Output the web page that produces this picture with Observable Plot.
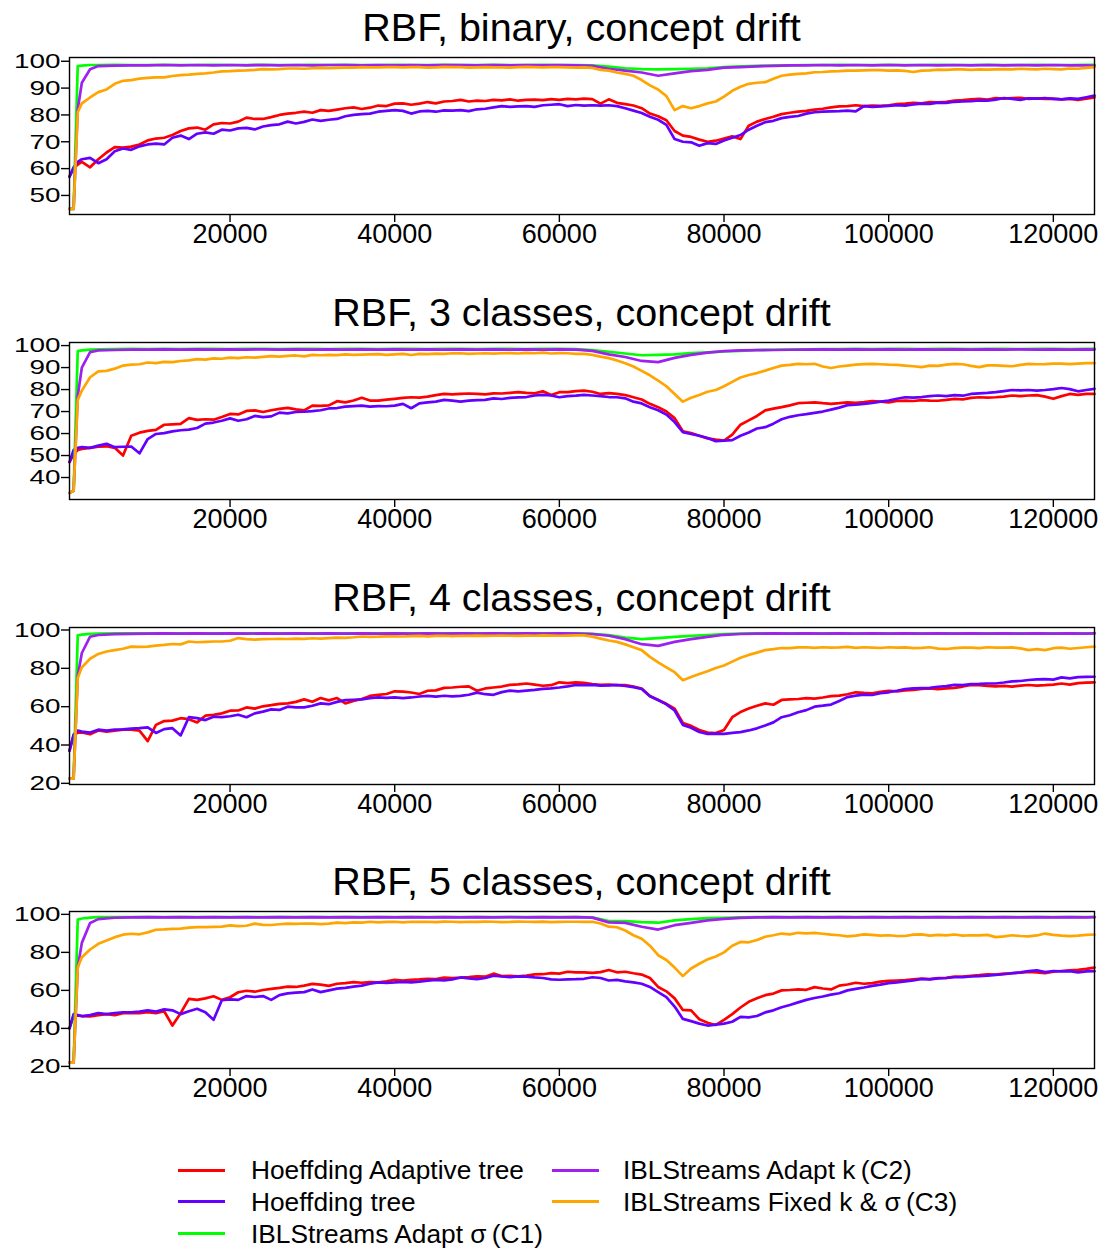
<!DOCTYPE html>
<html><head><meta charset="utf-8">
<script src="https://cdn.jsdelivr.net/npm/d3@7"></script>
<script src="https://cdn.jsdelivr.net/npm/@observablehq/plot@0.6"></script>
<style>
body{margin:0;background:#fff;width:1110px;height:1250px;position:relative;overflow:hidden;font-family:"Liberation Sans",Arial,sans-serif;color:#000;}
.title{position:absolute;left:0;width:1163px;text-align:center;font-size:39.5px;line-height:40px;white-space:nowrap;}
.panel{position:absolute;left:0;}
.lg-line{position:absolute;height:3px;width:47px;}
.lg-text{position:absolute;font-size:26.3px;line-height:26px;white-space:nowrap;}
</style></head>
<body>
<script>
// ---- x grids (instances processed) ----
const xFine = [500, 1000, 1500, 2000, ...d3.range(3000, 125001, 1000)];
const xCoarse = [500, 1000, 1500, 2000, 3000, ...d3.range(4000, 124001, 2000), 125000];
const xTicks = [20000, 40000, 60000, 80000, 100000, 120000];

const seriesNames = ["Hoeffding Adaptive tree", "Hoeffding tree", "IBLStreams Adapt σ\u2009(C1)", "IBLStreams Adapt k\u2009(C2)", "IBLStreams Fixed k & σ\u2009(C3)"];
const seriesColors = ["#ff0000", "#6300ff", "#00ff00", "#a020f0", "#ffa500"];

const panelTitles = ["RBF, binary, concept drift", "RBF, 3 classes, concept drift", "RBF, 4 classes, concept drift", "RBF, 5 classes, concept drift"];
const yDomains = [[42.9, 101.4], [30, 101.4], [19.4, 101.3], [18.9, 101.5]];
const yTickSets = [[50, 60, 70, 80, 90, 100], [40, 50, 60, 70, 80, 90, 100], [20, 40, 60, 80, 100], [20, 40, 60, 80, 100]];

// ---- Panel 1: binary ----
const binHAT = [57, 60, 61.5, 62.5,
60.5, 63.5, 66, 68, 67.8, 68.2, 69, 70.5, 71.2, 71.5,
72.5, 74, 75, 75.3, 74.5, 76.5, 77, 76.8, 77.5, 79,
78.5, 78.5, 79.2, 80, 80.5, 80.8, 81.2, 80.8, 81.8, 81.5,
82, 82.5, 82.8, 82.2, 82.7, 83.5, 83.3, 84.2, 84.3, 83.8,
84.2, 84.8, 84.3, 85, 85.2, 85.6, 85, 85.3, 85.2, 85.6,
85.4, 85.8, 85.3, 85.6, 85.7, 85.5, 85.9, 85.6, 86, 85.8,
86.1, 85.9, 84.2, 85.8, 84.5, 84, 83.5, 82.5, 80.5, 79.5,
78, 74, 72.3, 71.8, 70.8, 70, 70.4, 71.2, 72, 71,
76, 77.5, 78.5, 79.3, 80.3, 80.8, 81.2, 81.5, 82, 82.3,
82.8, 83.2, 83.3, 83.6, 83.3, 83.5, 83.4, 83.6, 84, 84.2,
84.5, 84.3, 84.8, 84.7, 84.9, 85.3, 85.5, 85.8, 86, 85.7,
86.3, 86.1, 86.3, 86.4, 86, 86.2, 86, 86.1, 85.8, 86,
85.6, 86.1, 86.5];
const binHT = [57, 60.5, 62.5, 63.5,
64, 62, 63.5, 66.5, 67.5, 67, 68.3, 69, 69.3, 69,
71.5, 72.3, 71, 73, 73.5, 73, 74.5, 74.2, 75, 75.2,
74.6, 75.7, 76.2, 76.5, 77.5, 76.8, 77.4, 78.3, 77.8, 78.2,
78.5, 79.5, 80, 80.3, 80.5, 81.2, 81.5, 81.8, 81.5, 80.5,
81.3, 81.5, 81.2, 81.7, 81.6, 81.8, 81.4, 82.1, 82.3, 82.8,
83.3, 83, 83.2, 83.3, 83, 83.6, 83.8, 84, 83.3, 83.7,
83.5, 83.6, 83.5, 83.6, 83.3, 82.5, 81.6, 80.7, 79.3, 78.2,
76.3, 71, 70, 69.8, 68.5, 69.5, 69.2, 70.5, 71.5, 72.5,
74.5, 76, 77.3, 77.8, 78.8, 79.3, 79.6, 80.5, 81, 81.2,
81.3, 81.4, 81.6, 81.3, 83.3, 83, 83.2, 83.4, 83.6, 83.5,
83.9, 84.2, 84.1, 84.6, 84.5, 84.9, 85, 85.1, 85.4, 85.3,
85.7, 86.3, 86, 85.6, 86.2, 86.1, 86.3, 86, 85.8, 86.2,
86, 86.6, 87.2];
const binC1 = [45, 45, 98.2, 98.4, 98.6,
98.6, 98.7, 98.6, 98.6, 98.7, 98.6, 98.6, 98.7, 98.6, 98.6,
98.7, 98.6, 98.6, 98.7, 98.6, 98.7, 98.6, 98.6, 98.7, 98.6,
98.6, 98.7, 98.6, 98.6, 98.7, 98.6, 98.6, 98.7, 98.6, 98.6,
98.5, 98, 97.4, 97.1, 97, 97.1, 97.2, 97.4, 97.8, 98.1,
98.3, 98.4, 98.5, 98.6, 98.6, 98.7, 98.6, 98.6, 98.7, 98.6,
98.6, 98.7, 98.6, 98.6, 98.7, 98.6, 98.6, 98.7, 98.6, 98.6,
98.7, 98.7];
const binC2 = [45, 45, 82, 92, 97,
98.2, 98.4, 98.5, 98.5, 98.6, 98.5, 98.6, 98.5, 98.6, 98.5,
98.6, 98.5, 98.6, 98.5, 98.6, 98.6, 98.5, 98.6, 98.5, 98.6,
98.5, 98.6, 98.6, 98.5, 98.6, 98.5, 98.6, 98.5, 98.6, 98.5,
98.3, 97.2, 96.5, 95.8, 94.6, 95.5, 96.3, 96.8, 97.6, 97.8,
98.1, 98.3, 98.5, 98.5, 98.6, 98.5, 98.6, 98.5, 98.6, 98.5,
98.6, 98.5, 98.6, 98.5, 98.6, 98.5, 98.6, 98.5, 98.6, 98.5,
98.5, 98.3];
const binC3 = [45, 45, 81, 84.3,
86.5, 88.5, 89.5, 91.6, 92.7, 93, 93.5, 93.8, 94, 94,
94.5, 94.8, 95, 95.3, 95.5, 95.8, 96.2, 96.3, 96.5, 96.6,
96.8, 97.1, 97, 97.1, 97.3, 97.3, 97.2, 97.4, 97.5, 97.4,
97.5, 97.6, 97.6, 97.8, 97.7, 97.7, 97.8, 97.8, 97.7, 97.8,
97.8, 97.6, 97.7, 97.9, 97.8, 97.8, 97.6, 97.7, 97.8, 97.7,
97.7, 97.6, 97.8, 97.9, 97.8, 97.7, 97.8, 97.8, 97.7, 97.6,
97.7, 97.5, 96.8, 96.5, 95.8, 95.3, 94.6, 93, 91, 89.5,
87, 81.8, 83.3, 82.5, 83.3, 84.3, 85, 86.8, 89, 90.5,
91.6, 92, 92.2, 93.5, 94.6, 95, 95.3, 95.5, 95.9, 96,
96.2, 96.3, 96.5, 96.5, 96.6, 96.7, 96.7, 96.5, 96.6, 96.4,
96, 96.5, 96.6, 96.9, 96.8, 97, 97, 96.8, 97, 96.9,
97, 97.1, 97, 97.2, 97.1, 97, 97.2, 97.1, 97, 97.3,
97.2, 97.5, 97.8];

// ---- Panel 2: 3 classes ----
const c3HAT = [47, 50.5, 52.5, 53,
53.5, 54, 54.2, 53.5, 50, 59, 60.4, 61.2, 61.7, 64,
64.2, 64.4, 67, 66.2, 66.5, 66.3, 67.5, 68.9, 68.7, 70.3,
70.5, 69.8, 70.6, 71.2, 71.7, 71, 70.5, 72.7, 72.6, 72.8,
74.7, 74.2, 75, 76.3, 75, 75, 75.4, 75.8, 76.2, 76.5,
76.3, 76.8, 77.5, 78, 77.8, 78, 78.2, 78, 77.8, 78.3,
78.2, 78.5, 78.8, 78.5, 78.3, 79.2, 77.5, 78.8, 78.8, 79.3,
79.5, 79, 78, 78.4, 78, 77.5, 76.5, 75.5, 73.5, 72,
70, 67, 61, 60.2, 59, 57.8, 57.2, 56.8, 59.5, 64,
66, 68, 70.5, 71.3, 72, 72.8, 73.8, 74, 74.2, 73.8,
73.5, 73.8, 74.2, 74, 74.3, 74.7, 74.5, 74.2, 74.8, 75,
74.8, 75.2, 75, 74.9, 75.3, 75.8, 75.5, 76.2, 76.5, 76.3,
76.5, 76.8, 77.3, 77, 77.3, 77.5, 76.8, 75.8, 77, 78,
77.6, 78, 78];
const c3HT = [47, 52.5, 53.5, 53.8,
53.5, 54.5, 55.3, 53.8, 54, 54.1, 51, 57.5, 59.8, 60.2,
61, 61.5, 61.8, 62.5, 64.5, 65, 65.8, 66.9, 65.8, 66.5,
68, 67.5, 67.8, 69.5, 69.2, 69.8, 69.9, 70.2, 70.6, 71.4,
71.6, 72.2, 72.5, 72.7, 72.2, 72.5, 72.4, 72.7, 73.5, 71.5,
73.7, 74.2, 74.5, 75.3, 75, 74.5, 75, 75.2, 75.3, 76,
75.7, 76.2, 76.4, 76.6, 77.3, 77.6, 77.3, 76.5, 77, 77.2,
77.6, 77.3, 77, 76.6, 76.5, 76, 74.5, 73.7, 72, 70.6,
68.6, 65.2, 60.6, 59.8, 59, 58, 56.5, 56.8, 57, 59,
60.5, 62.3, 62.9, 64.5, 66.5, 67.6, 68.3, 68.8, 69.4, 70,
70.9, 71.8, 72.9, 73.1, 73.5, 73.9, 74.5, 75, 75.8, 76.5,
76.3, 76.6, 77, 77.3, 77, 77.5, 77.2, 78, 78.3, 78.5,
78.8, 79.3, 79.8, 79.6, 79.8, 79.5, 79.8, 80.2, 80.7, 80.2,
79.2, 79.8, 80.3];
const c3C1 = [33, 34, 97.5, 97.8, 98.2,
98.3, 98.4, 98.5, 98.4, 98.5, 98.4, 98.5, 98.5, 98.4, 98.5,
98.5, 98.4, 98.5, 98.5, 98.4, 98.5, 98.5, 98.4, 98.5, 98.5,
98.4, 98.5, 98.5, 98.4, 98.5, 98.5, 98.4, 98.5, 98.5, 98.4,
98, 97.2, 96.4, 95.6, 95.8, 96, 96.6, 96.9, 97.3, 97.6,
98, 98.1, 98.2, 98.3, 98.4, 98.4, 98.5, 98.4, 98.5, 98.5,
98.4, 98.5, 98.5, 98.4, 98.5, 98.5, 98.4, 98.5, 98.5, 98.4,
98.5, 98.5];
const c3C2 = [33, 34, 77, 90, 97,
97.8, 98, 98.2, 98.2, 98.3, 98.2, 98.3, 98.2, 98.3, 98.2,
98.3, 98.2, 98.3, 98.2, 98.3, 98.2, 98.3, 98.2, 98.3, 98.2,
98.3, 98.2, 98.3, 98.2, 98.3, 98.2, 98.3, 98.2, 98.3, 98.2,
97.6, 96, 94.8, 93, 92.5, 94.4, 95.8, 96.8, 97.5, 97.8,
97.9, 98, 98.1, 98.2, 98.3, 98.2, 98.3, 98.2, 98.3, 98.2,
98.3, 98.2, 98.3, 98.2, 98.3, 98.2, 98.3, 98.2, 98.3, 98.2,
98.3, 98.2];
const c3C3 = [33, 34, 75.3, 79.5,
85.6, 88.3, 88.5, 89.5, 90.9, 91.3, 91.5, 92.3, 92, 92.6,
92.5, 93, 93.3, 93.8, 93.6, 94.2, 94, 94.5, 94.3, 94.7,
94.5, 94.9, 95.2, 95, 95.3, 95.5, 95.1, 95.8, 95.6, 95.8,
95.7, 96, 95.8, 95.9, 96, 96.1, 95.8, 96, 96.2, 95.7,
96.2, 96.1, 96.3, 96.2, 96.5, 96.5, 96.2, 96.4, 96.5, 96.3,
96.5, 96.6, 96.4, 96.7, 96.5, 96.8, 96.4, 96.6, 96.5, 96.2,
96.2, 95.8, 95, 94.3, 93.2, 92, 90.5, 88.5, 86.5, 84.1,
81.5, 78, 74.5, 76.3, 77.5, 79, 79.8, 81.5, 83.5, 85.5,
86.6, 87.5, 88.6, 89.8, 90.9, 91.2, 91.7, 91.5, 91.7, 90.5,
89.8, 90.5, 90.9, 91.3, 91.6, 91.7, 91.5, 91.3, 91.2, 90.9,
90.6, 90.2, 90.9, 90.8, 91.3, 91.7, 91.5, 90.8, 90.2, 91,
91, 90.8, 90.6, 91.2, 91.7, 91.5, 91.6, 91.8, 91.8, 91.6,
91.8, 92, 92];

// ---- Panel 3: 4 classes ----
const c4HAT = [37, 45, 46.5, 46.5,
45.6, 47.6, 47, 47.5, 48, 48, 47.5, 42, 50.5, 52.5,
52.7, 54, 53.5, 51.8, 55.3, 55.8, 56.5, 57.9, 58, 59.6,
59, 60.2, 60.8, 61.5, 61.7, 62.5, 63.8, 62.6, 64.5, 63.3,
64.5, 61.7, 63, 64, 65.6, 66.2, 66.6, 68, 67.8, 67.4,
66.6, 68.3, 68.5, 69.8, 70, 70.4, 70.6, 68.3, 69.5, 70,
70.5, 71.4, 71.6, 72.1, 71.5, 70.9, 71.2, 72.7, 72.3, 72.7,
72.4, 71.8, 71.4, 71.5, 71.2, 71.3, 70.5, 69.5, 65.6, 63.5,
61.5, 59, 51.5, 50, 47.8, 46.5, 46.2, 47.8, 54.5, 57.2,
59, 60.5, 61.7, 61, 63.5, 63.8, 64, 64.5, 64.2, 64.8,
65.5, 65.8, 66.5, 67.5, 67.2, 67, 67.8, 68.3, 68, 68.5,
68.7, 69.3, 69.5, 69.2, 69.5, 69.8, 70.5, 71.4, 71.2, 70.8,
70.6, 70.8, 70.5, 71, 71.3, 71, 71.2, 71.5, 72.1, 71.5,
72.3, 72.5, 72.7];
const c4HT = [37, 45.5, 47.5, 47,
46.5, 48, 47.5, 48, 48.2, 48.5, 48.8, 49.2, 46.3, 48.3,
48.8, 45, 54.5, 54, 53, 54.8, 54.5, 55, 55.8, 54.5,
56.5, 57.4, 58.6, 58.3, 60, 59.6, 59.6, 60.5, 61.7, 61.3,
62.5, 63.4, 63.6, 63.8, 64.5, 64.8, 64.6, 64.8, 64.5, 64.8,
65.3, 65.6, 65.2, 65.7, 65.4, 65.6, 66.2, 67.3, 66.5, 66.2,
67.6, 68.4, 68, 68.4, 68.8, 69.3, 69.5, 70, 70.6, 71.3,
71.2, 71.4, 71, 71.1, 71.3, 70.8, 70.2, 69.2, 65.4, 63.5,
61.2, 58, 50.5, 49, 46.8, 45.8, 45.9, 45.8, 46.3, 46.7,
47.6, 48.7, 50.2, 51.8, 54.5, 55.5, 57.1, 58.2, 60, 60.5,
61.1, 63, 65, 65.8, 66.3, 66.1, 67, 67.5, 68.3, 69.2,
69.5, 69.7, 69.8, 70.4, 70.7, 71.4, 71.2, 71.8, 71.9, 72.1,
72.1, 72.6, 73.2, 73.4, 73.9, 74.2, 74.4, 74.1, 75.3, 74.8,
75.4, 75.5, 75.6];
const c4C1 = [22.5, 22.5, 97.2, 97.6, 98,
98.1, 98.2, 98.2, 98.3, 98.2, 98.3, 98.2, 98.3, 98.2, 98.3,
98.2, 98.3, 98.2, 98.3, 98.2, 98.3, 98.2, 98.3, 98.2, 98.3,
98.2, 98.3, 98.2, 98.3, 98.2, 98.3, 98.2, 98.3, 98.2, 98.3,
98, 97.3, 96, 95.2, 95.8, 96.4, 96.9, 97.4, 97.9, 98.1,
98.2, 98.3, 98.2, 98.3, 98.2, 98.3, 98.2, 98.3, 98.2, 98.3,
98.2, 98.3, 98.2, 98.3, 98.2, 98.3, 98.2, 98.3, 98.2, 98.3,
98.2, 98.3];
const c4C2 = [22.5, 22.5, 76, 88, 96.5,
97.4, 97.8, 98, 98.1, 98.2, 98.1, 98.2, 98.1, 98.2, 98.1,
98.2, 98.1, 98.2, 98.1, 98.2, 98.1, 98.2, 98.1, 98.2, 98.1,
98.2, 98.1, 98.2, 98.1, 98.2, 98.1, 98.2, 98.1, 98.2, 98.1,
97.9, 97, 95.2, 92.6, 91.7, 93.8, 95.2, 96.4, 97.5, 97.9,
98.1, 98.2, 98.1, 98.2, 98.1, 98.2, 98.1, 98.2, 98.1, 98.2,
98.1, 98.2, 98.1, 98.2, 98.1, 98.2, 98.1, 98.2, 98.1, 98.2,
98.1, 98.2];
const c4C3 = [22.5, 22.5, 75, 80.5,
85, 87.5, 88.8, 89.5, 90.2, 91.3, 91.2, 91.3, 91.8, 92.2,
92.7, 92.5, 94, 93.6, 93.8, 94, 94, 94.4, 95.8, 95.2,
95, 95.2, 95.3, 95.4, 95.3, 95.5, 95.4, 95.7, 95.5, 95.8,
96, 95.9, 96.2, 96.6, 96.4, 96.5, 96.7, 96.7, 96.6, 96.8,
96.9, 96.7, 96.9, 97, 96.8, 97, 96.9, 97.1, 96.9, 97,
97.1, 97, 96.9, 97.1, 97, 97.2, 97.1, 97, 97.1, 97.2,
97.2, 96.5, 95.5, 94.5, 93.8, 92.5, 91, 89.5, 86, 83.1,
80.5, 78, 73.8, 75.5, 77, 78.5, 80.2, 81.5, 83.5, 85.5,
87, 88.2, 89.5, 90, 90.6, 90.5, 90.9, 91, 90.7, 91,
90.8, 90.9, 91.2, 90.7, 91, 90.8, 90.6, 91, 90.8, 90.9,
90.5, 90.7, 91, 90.3, 90.1, 90.5, 90.8, 90.8, 90.5, 91,
90.8, 90.8, 90.9, 90.4, 89.5, 90, 89.5, 90.5, 90.8, 90.2,
90.6, 91, 91.3];

// ---- Panel 4: 5 classes ----
const c5HAT = [40, 46.7, 46.8, 46.5,
46.3, 47, 47.5, 47, 48, 48, 48, 48.5, 48, 49,
41.5, 48, 55.5, 55, 55.8, 56.9, 55, 56.4, 59, 59.8,
59.3, 60.2, 60.8, 61.3, 62, 61.8, 62.5, 63.4, 63, 62.4,
63.5, 63.8, 64.3, 64, 64.3, 64.2, 64.8, 65.6, 65.2, 65.6,
65.8, 66.1, 66, 66.7, 66.5, 66.7, 67, 67.4, 67.2, 68.8,
67.5, 67.7, 67.4, 67.8, 68.4, 68.5, 69.1, 68.8, 69.8, 69.5,
69.5, 69.2, 69.6, 70.7, 69.5, 69.8, 69, 68.3, 66.5, 61.8,
59.5, 55.8, 49.7, 49.5, 44.8, 43, 41.8, 44.5, 47.5, 51,
54, 55.8, 57.5, 58.3, 60, 60.2, 60.5, 60.3, 61.7, 61,
60.5, 62.5, 63.1, 64, 63.5, 63.8, 64.6, 65, 65.2, 65.4,
65.8, 66.2, 65.9, 66.5, 66.6, 67.3, 67.2, 67.6, 68, 68.5,
68.3, 68.8, 69, 69.3, 69.7, 69.5, 69, 69.8, 70.2, 70.5,
70.8, 71.3, 72];
const c5HT = [40, 47.5, 47, 46.5,
47, 48, 47.5, 48, 48.5, 48.5, 48.8, 49.5, 48.8, 50,
49.5, 47.5, 49, 50.3, 48.5, 44.5, 54.8, 55.3, 55, 57,
56.5, 57, 55, 57.5, 58.4, 58.8, 59.1, 60.5, 59.1, 60,
60.9, 61.3, 62, 62.5, 63.5, 64.2, 64, 64.2, 64.5, 64.2,
64.6, 65.1, 65.5, 65.3, 65.8, 66.8, 66.3, 65.9, 66.5, 67.7,
67.3, 67, 67.4, 67.2, 66.8, 66.5, 65.8, 65.6, 65.8, 65.9,
66.1, 66.9, 66.5, 65.2, 65.5, 64.7, 64.2, 63.5, 61.8, 59.1,
56.5, 51.5, 45, 43.8, 42.5, 41.5, 42, 42.5, 43.5, 46.1,
45.8, 46.5, 48.4, 49.5, 51.1, 52.3, 53.7, 55, 56, 56.8,
57.8, 58.5, 60, 60.8, 61.5, 62.4, 63, 63.8, 64.2, 64.7,
65.2, 66, 65.8, 66.3, 66.5, 66.9, 67, 67.3, 67.5, 67.8,
68.2, 68.5, 69.1, 69.5, 70.1, 70.5, 69.6, 70.2, 70, 70.1,
69.5, 70, 70.1];
const c5C1 = [22, 22, 97.2, 97.8, 98.3,
98.5, 98.5, 98.6, 98.5, 98.6, 98.5, 98.6, 98.5, 98.6, 98.5,
98.6, 98.5, 98.6, 98.5, 98.6, 98.5, 98.6, 98.5, 98.6, 98.5,
98.6, 98.5, 98.6, 98.5, 98.6, 98.5, 98.6, 98.5, 98.6, 98.5,
98.4, 96.5, 96.4, 95.9, 95.6, 96.8, 97.5, 98, 98.2, 98.4,
98.5, 98.6, 98.5, 98.6, 98.5, 98.6, 98.5, 98.6, 98.5, 98.6,
98.5, 98.6, 98.5, 98.6, 98.5, 98.6, 98.5, 98.6, 98.5, 98.6,
98.5, 98.6];
const c5C2 = [22, 22, 72, 85, 95.5,
97.5, 98.2, 98.4, 98.5, 98.4, 98.5, 98.4, 98.5, 98.4, 98.5,
98.4, 98.5, 98.4, 98.5, 98.4, 98.5, 98.4, 98.5, 98.4, 98.5,
98.4, 98.5, 98.4, 98.5, 98.4, 98.5, 98.4, 98.5, 98.4, 98.5,
98.3, 95.8, 95.5, 93.5, 92, 94.3, 95.5, 96.8, 97.6, 98.1,
98.4, 98.5, 98.4, 98.5, 98.4, 98.5, 98.4, 98.5, 98.4, 98.5,
98.4, 98.5, 98.4, 98.5, 98.4, 98.5, 98.4, 98.5, 98.4, 98.5,
98.4, 98.5];
const c5C3 = [22, 22, 72, 77.4,
81.5, 84.5, 86.3, 88, 89.3, 89.8, 89.5, 90.5, 91.9, 92.1,
92.4, 92.5, 93, 93.3, 93.3, 93.4, 93.5, 94.2, 93.8, 94,
95.1, 94.5, 94.4, 94.8, 95.1, 95, 95.2, 95.1, 94.9, 95.1,
95.6, 95.4, 95.8, 95.6, 96.1, 95.8, 96, 96.1, 95.8, 96.1,
96, 96.1, 95.9, 96.2, 96.1, 95.9, 96.1, 96, 96.2, 96.1,
95.9, 96, 96.2, 96.1, 96, 96.2, 95.9, 96, 96.1, 96.1,
96, 96.1, 95.2, 93.5, 93.2, 91.5, 89, 87.2, 83.5, 78.5,
76, 72, 67.5, 71.5, 74, 76.3, 77.8, 80, 83.5, 85.5,
85.3, 86.5, 88.2, 89, 89.9, 89.5, 90.3, 90, 90.3, 89.8,
89.3, 89, 88.4, 88.8, 89.5, 89.2, 88.8, 89, 88.6, 88.6,
89.3, 89.5, 88.8, 89.2, 88.9, 89.4, 88.8, 89, 88.9, 89.2,
88, 88.4, 89, 88.6, 88.4, 88.9, 89.9, 89.2, 88.8, 88.5,
88.8, 89.2, 89.4];

const panelSeries = [
  [binHAT, binHT, binC1, binC2, binC3],
  [c3HAT, c3HT, c3C1, c3C2, c3C3],
  [c4HAT, c4HT, c4C1, c4C2, c4C3],
  [c5HAT, c5HT, c5C1, c5C2, c5C3]
];
// x grid for each series (adaptive trees and C3 on the fine grid, C1 and C2 on the coarse grid)
const seriesGrid = [xFine, xFine, xCoarse, xCoarse, xFine];

const boxTops = [57, 342, 627, 911];
const boxH = 157, mTop = 10, mBottom = 45;

panelSeries.forEach((arrs, p) => {
  arrs.forEach((a, s) => {
    if (a.length !== seriesGrid[s].length) throw new Error(`panel ${p} series ${s}: ${a.length} vs ${seriesGrid[s].length}`);
  });
  const t = document.createElement("div");
  t.className = "title";
  t.style.top = (6.5 + (boxTops[p] - 57)) + "px";
  t.textContent = panelTitles[p];
  document.body.appendChild(t);

  const lineMarks = [0, 1, 2, 3, 4].map(s => {
    const grid = seriesGrid[s];
    const rows = arrs[s].map((v, i) => ({x: grid[i], y: v}));
    return Plot.line(rows, {x: "x", y: "y", stroke: seriesColors[s], strokeWidth: 2.7, strokeLinejoin: "round"});
  });

  const chart = Plot.plot({
    width: 1110,
    height: mTop + boxH + mBottom,
    marginLeft: 69, marginRight: 16, marginTop: mTop, marginBottom: mBottom,
    style: {fontFamily: '"Liberation Sans", Arial, sans-serif', color: "#000", background: "transparent", overflow: "visible"},
    x: {domain: [500, 125000], label: null},
    y: {domain: yDomains[p], label: null},
    marks: [
      ...lineMarks,
      Plot.frame({stroke: "#000", strokeWidth: 1.4}),
      Plot.axisX({ticks: xTicks, tickFormat: d => String(d), tickSize: 8, tickPadding: 1, fontSize: 27, strokeWidth: 1.4, label: null}),
      Plot.axisY({ticks: yTickSets[p], tickFormat: d => String(d), tickSize: 8, tickPadding: 1, fontSize: 21, strokeWidth: 1.4, label: null})
    ]
  });
  // the reference's y tick labels are drawn wide and short
  chart.querySelectorAll('g[aria-label="y-axis tick label"] text').forEach(el => {
    el.setAttribute("textLength", el.textContent.length * 15.5);
    el.setAttribute("lengthAdjust", "spacingAndGlyphs");
  });
  const wrap = document.createElement("div");
  wrap.className = "panel";
  wrap.style.top = (boxTops[p] - mTop) + "px";
  wrap.appendChild(chart);
  document.body.appendChild(wrap);
});

// legend
const legendPos = [
  {col: 0, row: 0}, {col: 0, row: 1}, {col: 0, row: 2}, {col: 1, row: 0}, {col: 1, row: 1}
];
const colLineX = [178, 552], colTextX = [251, 623];
const rowCenter = [1170, 1201.7, 1233.3];
seriesNames.forEach((name, i) => {
  const {col, row} = legendPos[i];
  const ln = document.createElement("div");
  ln.className = "lg-line";
  ln.style.left = colLineX[col] + "px";
  ln.style.top = (rowCenter[row] - 1.5) + "px";
  ln.style.background = seriesColors[i];
  document.body.appendChild(ln);
  const tx = document.createElement("div");
  tx.className = "lg-text";
  tx.style.left = colTextX[col] + "px";
  tx.style.top = (rowCenter[row] - 12.7) + "px";
  tx.textContent = name;
  document.body.appendChild(tx);
});
</script>
</body></html>
